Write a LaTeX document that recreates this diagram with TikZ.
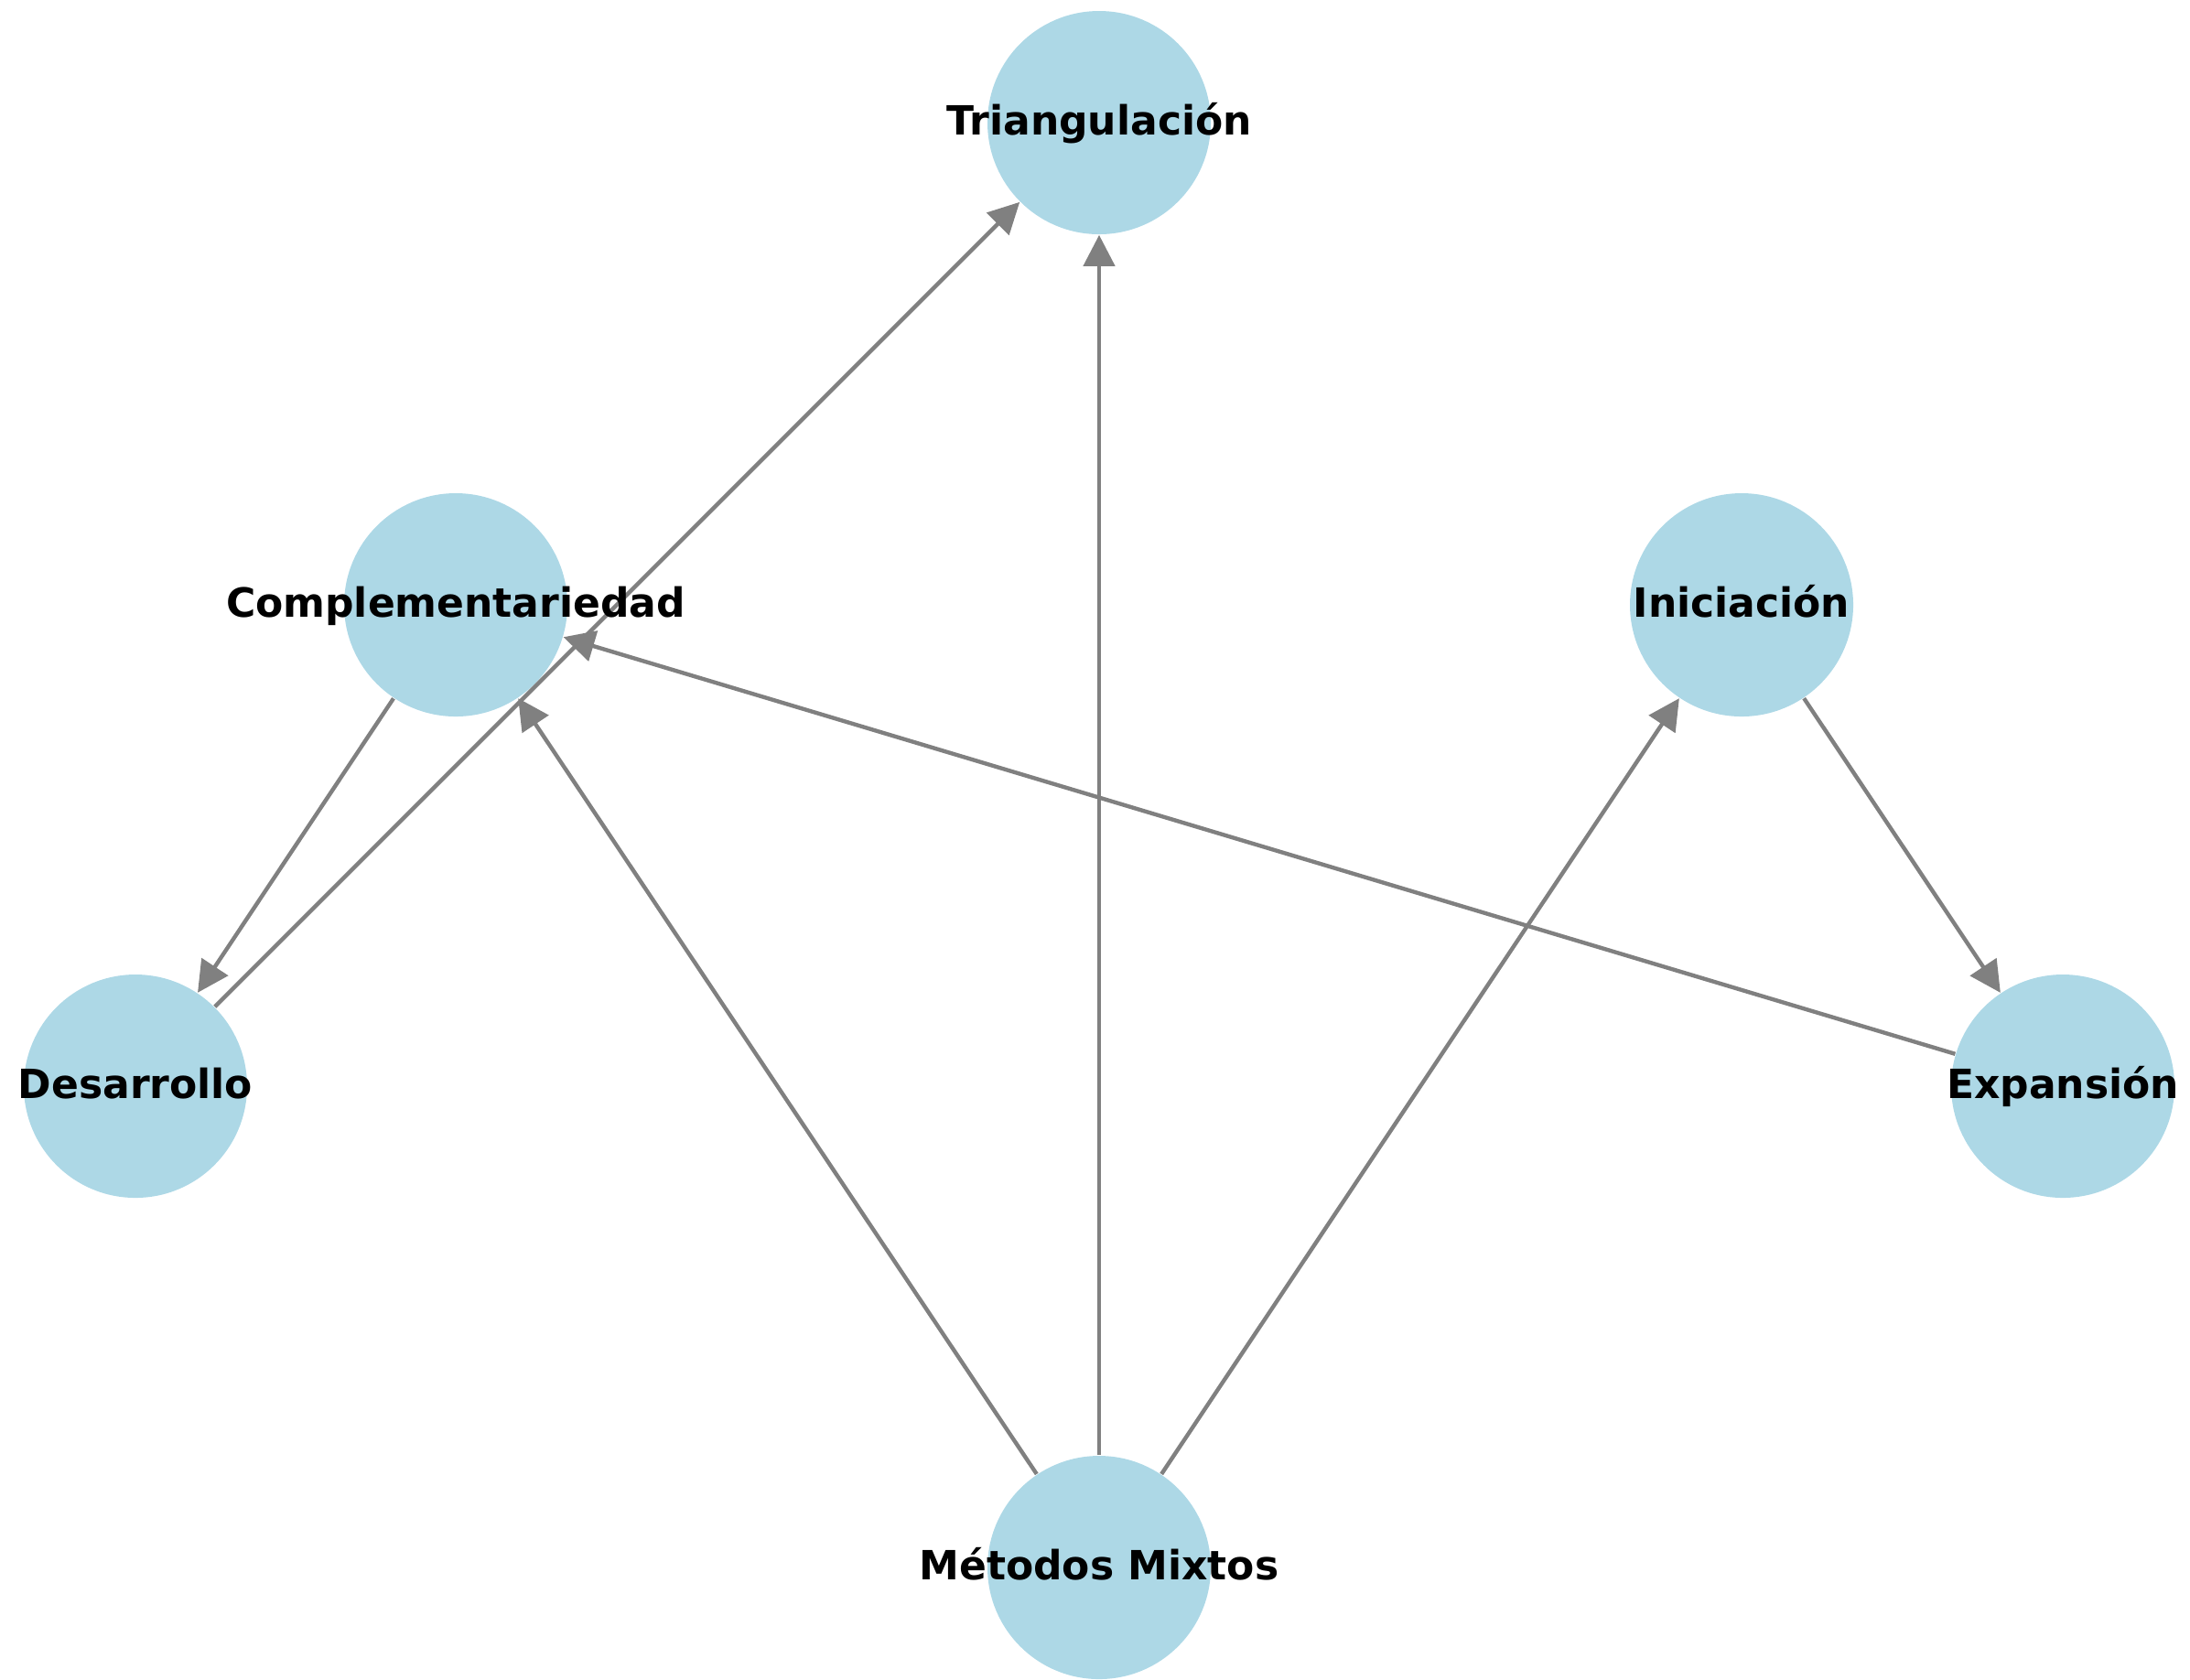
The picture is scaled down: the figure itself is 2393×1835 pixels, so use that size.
\documentclass[tikz,border=0pt]{standalone}
\usepackage{fontspec}
\setmainfont{DejaVu Sans}
\usetikzlibrary{arrows.meta}
\definecolor{nodeblue}{HTML}{ADD8E6}
\definecolor{edgegray}{HTML}{808080}
\begin{document}
\begin{tikzpicture}[x=0.25pt,y=-0.25pt,
  disc/.style={circle,fill=nodeblue,draw=none,minimum size=61pt,inner sep=0pt},
  lbl/.style={inner sep=0pt,anchor=base,font=\fontsize{11}{13}\selectfont\bfseries},
  edge/.style={draw=edgegray,line width=1.1pt,-{Triangle[length=8.5pt,width=8.5pt]}}]
\useasboundingbox (0,0) rectangle (2393,1835);
\node[disc] (t) at (1201,134) {};
\node[disc] (c) at (498,661) {};
\node[disc] (i) at (1903,661) {};
\node[disc] (d) at (148,1187) {};
\node[disc] (e) at (2254,1187) {};
\node[disc] (m) at (1201,1713) {};
\draw[edge] (c) -- (d);
\draw[edge] (d) -- (t);
\draw[edge] (e) -- (c);
\draw[edge] (i) -- (e);
\draw[edge] (m) -- (c);
\draw[edge] (m) -- (t);
\draw[edge] (m) -- (i);
\node[lbl] (tl) at ([yshift=-3.4pt]t.center) {Triangulación};
\node[lbl] (cl) at ([yshift=-3.4pt]c.center) {Complementariedad};
\node[lbl] (il) at ([yshift=-3.4pt]i.center) {Iniciación};
\node[lbl] (dl) at ([yshift=-3.4pt]d.center) {Desarrollo};
\node[lbl] (el) at ([yshift=-3.4pt]e.center) {Expansión};
\node[lbl] (ml) at ([yshift=-3.4pt]m.center) {Métodos Mixtos};
\end{tikzpicture}
\end{document}
